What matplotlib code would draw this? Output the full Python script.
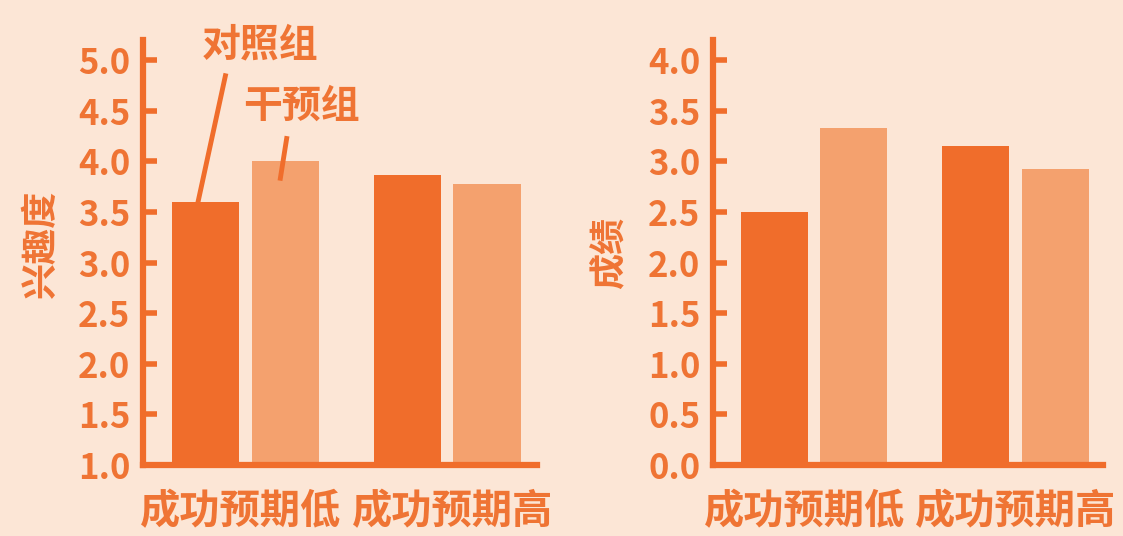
import matplotlib
matplotlib.use("Agg")
import matplotlib.pyplot as plt
import numpy as np

plt.rcParams['font.family'] = ['Noto Sans CJK SC', 'DejaVu Sans']
plt.rcParams['font.weight'] = 'bold'

categories = ["成功预期低", "成功预期高"]
interest_control = [3.6, 3.87]
interest_intervention = [4.0, 3.78]
grade_control = [2.5, 3.15]
grade_intervention = [3.33, 2.93]
interest_ticks = [1.0, 1.5, 2.0, 2.5, 3.0, 3.5, 4.0, 4.5, 5.0]
grade_ticks = [0.0, 0.5, 1.0, 1.5, 2.0, 2.5, 3.0, 3.5, 4.0]
series_names = ["对照组", "干预组"]

BG = "#FCE6D6"
DARK = "#F06D2B"
LIGHT = "#F4A16E"
TEXT = "#EF7434"

fig = plt.figure(figsize=(11.23, 5.36), dpi=100, facecolor=BG)
off, w = 0.197, 0.333


def panel(rect, ctrl, intv, ticks, ylim, xlim, ylabel, ylabel_xy, label_pos):
    ax = fig.add_axes(rect)
    ax.set_facecolor(BG)
    x = np.arange(len(categories))
    base = ylim[0]
    ax.bar(x - off, np.array(ctrl) - base, w, bottom=base, color=DARK)
    ax.bar(x + off, np.array(intv) - base, w, bottom=base, color=LIGHT)
    ax.set_ylim(*ylim)
    ax.set_xlim(*xlim)
    for s in ["top", "right"]:
        ax.spines[s].set_visible(False)
    for s in ["left", "bottom"]:
        ax.spines[s].set_color(DARK)
        ax.spines[s].set_linewidth(4.5)
    ax.set_yticks(ticks)
    ax.set_yticklabels([f"{t:.1f}" for t in ticks], fontsize=25, color=TEXT,
                       fontweight='bold')
    ax.tick_params(axis='y', direction='in', length=10, width=4, color=DARK, pad=9)
    ax.set_xticks(label_pos)
    ax.set_xticklabels(categories, fontsize=29, color=TEXT, fontweight='bold')
    ax.tick_params(axis='x', length=0, pad=19)
    ax.set_ylabel(ylabel, fontsize=26, color=TEXT, fontweight='bold')
    ax.yaxis.set_label_coords(*ylabel_xy)
    return ax


ax1 = panel([143 / 1123, 71 / 536, 394 / 1123, 425 / 536],
            interest_control, interest_intervention,
            interest_ticks, (1.0, 5.2), (-0.508, 1.445), "兴趣度", (-0.21, 0.52),
            [-0.022, 1.028])
ax2 = panel([713 / 1123, 71 / 536, 390 / 1123, 425 / 536],
            grade_control, grade_intervention,
            grade_ticks, (0.0, 4.2), (-0.501, 1.434), "成绩", (-0.22, 0.5),
            [-0.045, 1.0])

# series name annotations
ax1.plot([-0.097, -0.245], [4.87, 3.51], color=DARK, lw=3.5,
         solid_capstyle='butt', clip_on=False)
ax1.text(0.072, 5.15, series_names[0], fontsize=28, color=TEXT, fontweight='bold',
         ha='center', va='center', clip_on=False)
ax1.plot([0.206, 0.171], [4.25, 3.81], color=DARK, lw=3.5,
         solid_capstyle='butt', clip_on=False)
ax1.text(0.275, 4.55, series_names[1], fontsize=28, color=TEXT, fontweight='bold',
         ha='center', va='center', clip_on=False)

fig.savefig("out.png", dpi=100, facecolor=BG)
